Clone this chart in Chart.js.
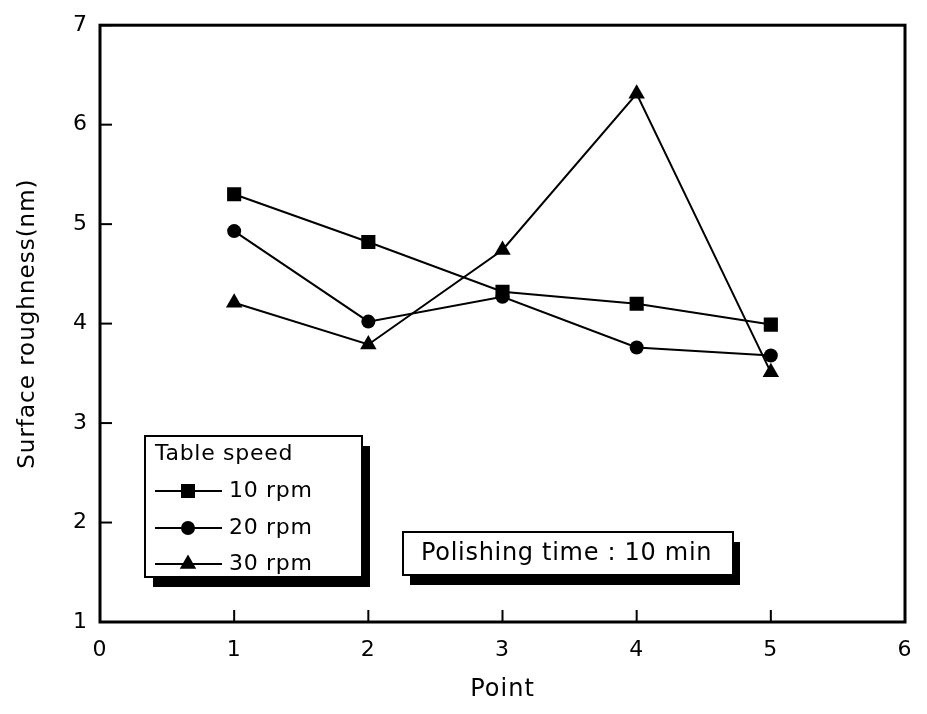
<!DOCTYPE html>
<html><head><meta charset="utf-8">
<script src="https://cdn.jsdelivr.net/npm/chart.js@4/dist/chart.umd.min.js"></script>
<style>html,body{margin:0;padding:0;background:#fff}#wrap{width:927px;height:714px}</style>
</head><body><div id="wrap"><canvas id="c" width="927" height="714"></canvas></div>
<script>
const points = [1, 2, 3, 4, 5];
const rpm10 = [5.30, 4.82, 4.32, 4.20, 3.99];
const rpm20 = [4.93, 4.02, 4.27, 3.76, 3.68];
const rpm30 = [4.21, 3.79, 4.74, 6.31, 3.51];
const seriesLabels = ['10 rpm', '20 rpm', '30 rpm'];
const pointStyles = ['rect', 'circle', 'triangle'];
const xTicks = [0, 1, 2, 3, 4, 5, 6];
const yTicks = [1, 2, 3, 4, 5, 6, 7];
const legendTitle = 'Table speed';
const noteText = 'Polishing time : 10 min';
const xTitle = 'Point';
const yTitle = 'Surface roughness(nm)';

const FONT = "'DejaVu Sans', 'Liberation Sans', Arial, sans-serif";
Chart.defaults.font.family = FONT;
Chart.defaults.color = '#000';

function mk(vals){ return points.map((p,i)=>({x:p, y:vals[i]})); }
const seriesVals = [rpm10, rpm20, rpm30];
const radii = {rect: 10, circle: 7, triangle: 9.5};

function drawMarker(ctx, style, x, y){
  ctx.beginPath();
  if (style === 'rect'){ const s = 7; ctx.rect(x-s, y-s, 2*s, 2*s); }
  else if (style === 'circle'){ ctx.arc(x, y, 7, 0, Math.PI*2); }
  else { const r = 9.5; ctx.moveTo(x, y-r); ctx.lineTo(x+r*0.866, y+r*0.5); ctx.lineTo(x-r*0.866, y+r*0.5); ctx.closePath(); }
  ctx.fill();
}

const decor = {
  id: 'decor',
  beforeDraw(chart){ chart.ctx.letterSpacing = '1px'; },
  afterDraw(chart){
    const {ctx, chartArea: a, scales: {x, y}} = chart;
    ctx.save();
    ctx.strokeStyle = '#000'; ctx.fillStyle = '#000';
    ctx.lineWidth = 3;
    ctx.strokeRect(a.left, a.top, a.right - a.left, a.bottom - a.top);
    ctx.lineWidth = 2;
    xTicks.forEach(v => { const px = x.getPixelForValue(v); ctx.beginPath(); ctx.moveTo(px, a.bottom); ctx.lineTo(px, a.bottom - 12); ctx.stroke(); });
    yTicks.forEach(v => { const py = y.getPixelForValue(v); ctx.beginPath(); ctx.moveTo(a.left, py); ctx.lineTo(a.left + 12, py); ctx.stroke(); });

    // legend box
    const L = {x: 145, y: 436, w: 217, h: 141};
    ctx.fillStyle = '#000'; ctx.fillRect(L.x + 8, L.y + 10, L.w, L.h);
    ctx.fillStyle = '#fff'; ctx.fillRect(L.x, L.y, L.w, L.h);
    ctx.lineWidth = 2; ctx.strokeRect(L.x, L.y, L.w, L.h);
    ctx.fillStyle = '#000';
    ctx.letterSpacing = '0.7px';
    ctx.font = '22px ' + FONT;
    ctx.textBaseline = 'middle'; ctx.textAlign = 'left';
    ctx.fillText(legendTitle, 155, 454);
    const rows = [491, 528, 564];
    seriesLabels.forEach((lab, i) => {
      const yy = rows[i];
      ctx.lineWidth = 2;
      ctx.beginPath(); ctx.moveTo(155, yy); ctx.lineTo(222, yy); ctx.stroke();
      drawMarker(ctx, pointStyles[i], 188, yy);
      ctx.fillText(lab, 229, yy);
    });

    // note box
    const N = {x: 403, y: 532, w: 330, h: 43};
    ctx.fillStyle = '#000'; ctx.fillRect(N.x + 7, N.y + 10, N.w, N.h);
    ctx.fillStyle = '#fff'; ctx.fillRect(N.x, N.y, N.w, N.h);
    ctx.lineWidth = 2; ctx.strokeRect(N.x, N.y, N.w, N.h);
    ctx.fillStyle = '#000';
    ctx.font = '24px ' + FONT;
    ctx.fillText(noteText, 421, 554);
    ctx.restore();
  }
};

new Chart(document.getElementById('c'), {
  type: 'scatter',
  data: {
    datasets: seriesLabels.map((lab, i) => ({
      label: lab,
      data: mk(seriesVals[i]),
      showLine: true,
      borderColor: '#000',
      backgroundColor: '#000',
      borderWidth: 2,
      pointStyle: pointStyles[i],
      pointRadius: radii[pointStyles[i]],
      pointBorderWidth: 0,
      tension: 0
    }))
  },
  options: {
    responsive: false,
    animation: false,
    devicePixelRatio: 1,
    layout: {padding: {top: 20, right: 17, left: 0, bottom: 0}},
    plugins: {legend: {display: false}, tooltip: {enabled: false}},
    scales: {
      x: {
        type: 'linear', min: 0, max: 6,
        afterFit(s){ s.height = 92; },
        afterBuildTicks(s){ s.ticks = xTicks.map(v => ({value: v})); },
        grid: {display: false, drawTicks: false},
        border: {display: false},
        ticks: {font: {size: 22}, padding: 15, maxRotation: 0},
        title: {display: true, text: xTitle, font: {size: 24}, padding: {top: 0, bottom: 10}}
      },
      y: {
        type: 'linear', min: 1, max: 7,
        afterFit(s){ s.width = 100; },
        afterBuildTicks(s){ s.ticks = yTicks.map(v => ({value: v})); },
        grid: {display: false, drawTicks: false},
        border: {display: false},
        ticks: {font: {size: 22}, padding: 12},
        title: {display: true, text: yTitle, font: {size: 23}, padding: {top: 14, bottom: 0}}
      }
    }
  },
  plugins: [decor]
});
</script>
</body></html>
